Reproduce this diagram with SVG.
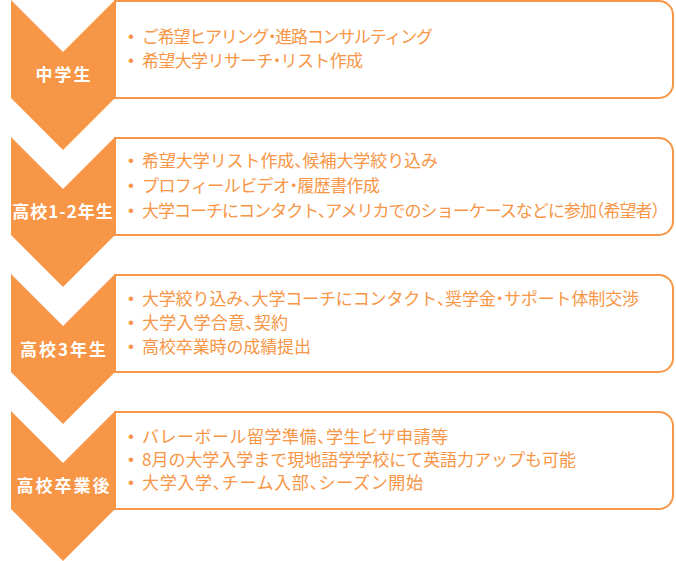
<svg xmlns="http://www.w3.org/2000/svg" width="676" height="561" viewBox="0 0 676 561">
<style>
.chev{fill:#F79646}
.box{fill:#fff;stroke:#F79646;stroke-width:2}
.lbl{font-family:"Noto Sans CJK JP","Noto Sans",sans-serif;font-weight:bold;font-size:17px;fill:#fff;text-anchor:middle;letter-spacing:2px}
.t{font-family:"Noto Sans CJK JP","Noto Sans",sans-serif;font-size:17px;fill:#F79646;font-feature-settings:"halt"}
.b{font-family:"Liberation Sans",Arial,sans-serif;font-size:17px;fill:#F79646}
</style>
<defs>
<path id="cv" d="M11 0 L63 52 L115 0 L115 98 L63 150 L11 98 Z"/>
<path id="bx" d="M115 1 H659 A14 14 0 0 1 673 15 V84 A14 14 0 0 1 659 98 H115 Z"/>
</defs>
<g id="step1">
<use href="#cv" class="chev"/>
<use href="#bx" class="box"/>
<text class="lbl" x="64" y="81">中学生</text>
<text class="b" x="128" y="42">•</text><text class="t" x="142" y="43" textLength="291" lengthAdjust="spacing">ご希望ヒアリング・進路コンサルティング</text>
<text class="b" x="128" y="66">•</text><text class="t" x="142" y="67" textLength="221" lengthAdjust="spacing">希望大学リサーチ・リスト作成</text>
</g>
<g id="step2" transform="translate(0,137)">
<use href="#cv" class="chev"/>
<use href="#bx" class="box"/>
<text class="lbl" x="63" y="81" style="letter-spacing:1px">高校1-2年生</text>
<text class="b" x="128" y="29">•</text><text class="t" x="142" y="30" textLength="296" lengthAdjust="spacing">希望大学リスト作成、候補大学絞り込み</text>
<text class="b" x="128" y="54">•</text><text class="t" x="142" y="55" textLength="238" lengthAdjust="spacing">プロフィールビデオ・履歴書作成</text>
<text class="b" x="128" y="79">•</text><text class="t" x="142" y="80" textLength="518" lengthAdjust="spacing">大学コーチにコンタクト、アメリカでのショーケースなどに参加（希望者）</text>
</g>
<g id="step3" transform="translate(0,274)">
<use href="#cv" class="chev"/>
<use href="#bx" class="box"/>
<text class="lbl" x="64" y="82">高校3年生</text>
<text class="b" x="128" y="30">•</text><text class="t" x="142" y="31" textLength="497" lengthAdjust="spacing">大学絞り込み、大学コーチにコンタクト、奨学金・サポート体制交渉</text>
<text class="b" x="128" y="54">•</text><text class="t" x="142" y="55" textLength="146" lengthAdjust="spacing">大学入学合意、契約</text>
<text class="b" x="128" y="78">•</text><text class="t" x="142" y="79" textLength="169" lengthAdjust="spacing">高校卒業時の成績提出</text>
</g>
<g id="step4" transform="translate(0,411)">
<use href="#cv" class="chev"/>
<use href="#bx" class="box"/>
<text class="lbl" x="64" y="81">高校卒業後</text>
<text class="b" x="128" y="31">•</text><text class="t" x="142" y="32" textLength="306" lengthAdjust="spacing">バレーボール留学準備、学生ビザ申請等</text>
<text class="b" x="128" y="54">•</text><text class="t" x="142" y="55" textLength="434" lengthAdjust="spacing">8月の大学入学まで現地語学学校にて英語力アップも可能</text>
<text class="b" x="128" y="77">•</text><text class="t" x="142" y="78" textLength="281" lengthAdjust="spacing">大学入学、チーム入部、シーズン開始</text>
</g>
<g id="connectors"></g>
</svg>
